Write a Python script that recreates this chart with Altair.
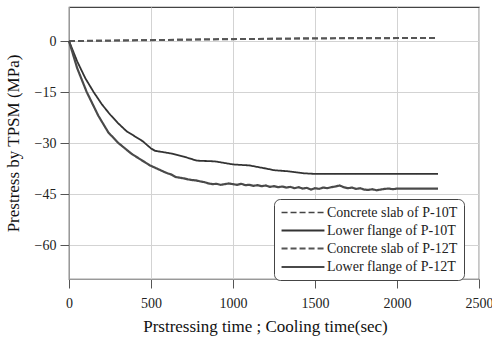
import altair as alt
import pandas as pd

series_names = ["Concrete slab of P-10T", "Lower flange of P-10T",
                "Concrete slab of P-12T", "Lower flange of P-12T"]

slab10_t = [0, 250, 500, 750, 1000, 1250, 1500, 1750, 2000, 2250]
slab10_v = [0.0, 0.15, 0.3, 0.45, 0.6, 0.7, 0.8, 0.85, 0.9, 0.95]

flange10_t = [0, 50, 100, 150, 200, 250, 300, 350, 400, 450, 500, 525, 575, 625, 700,
              780, 890, 950, 1000, 1100, 1200, 1250, 1330, 1430, 1500, 2250]
flange10_v = [0.0, -6.0, -11.0, -15.0, -18.6, -21.6, -24.2, -26.5, -28.0, -29.5, -31.6,
              -32.3, -32.7, -33.1, -34.0, -35.2, -35.4, -35.9, -36.3, -36.6, -37.5, -38.0,
              -38.3, -38.9, -39.1, -39.1]

slab12_t = [0, 250, 500, 750, 1000, 1250, 1500, 1750, 2000, 2250]
slab12_v = [0.0, 0.1, 0.25, 0.4, 0.55, 0.65, 0.75, 0.8, 0.85, 0.9]

flange12_t = [0, 50, 108, 179, 240, 301, 382, 494, 585,
              600, 625, 650, 675, 700, 725, 750, 775, 800, 825, 850, 875, 900, 925, 950,
              975, 1000, 1025, 1050, 1075, 1100, 1125, 1150, 1175, 1200, 1225, 1250, 1275,
              1300, 1325, 1350, 1375, 1400, 1425, 1450, 1475, 1500, 1525, 1550, 1575, 1600,
              1625, 1650, 1675, 1700, 1725, 1750, 1775, 1800, 1825, 1850, 1875, 1900, 1925,
              1950, 1975, 2000, 2250]
flange12_v = [0.0, -8.0, -15.0, -22.0, -26.9, -30.0, -33.2, -36.6, -38.6,
              -38.9, -39.3, -40.0, -40.2, -40.4, -40.7, -40.9, -41.0, -41.3, -41.5, -41.9,
              -42.1, -42.0, -42.3, -42.1, -41.9, -42.1, -42.3, -42.0, -42.4, -42.3, -42.6,
              -42.4, -42.7, -42.5, -42.9, -42.7, -43.0, -42.8, -43.1, -42.9, -43.3, -43.0,
              -43.4, -43.2, -43.7, -43.3, -43.5, -43.1, -43.3, -43.0, -42.8, -42.5, -43.0,
              -43.3, -43.1, -43.5, -43.3, -43.7, -43.8, -43.6, -43.9, -43.7, -43.5, -43.4,
              -43.6, -43.4, -43.4]

rows = []
for name, ts, vs in [(series_names[0], slab10_t, slab10_v),
                     (series_names[1], flange10_t, flange10_v),
                     (series_names[2], slab12_t, slab12_v),
                     (series_names[3], flange12_t, flange12_v)]:
    for t, v in zip(ts, vs):
        rows.append({"series": name, "t": t, "v": v})
df = pd.DataFrame(rows)

font = "Liberation Serif, Times New Roman, serif"
label_expr = "datum.label + '        '"

chart = alt.Chart(df).mark_line(strokeCap="butt", interpolate="linear").encode(
    x=alt.X("t:Q", scale=alt.Scale(domain=[0, 2500], nice=False),
            axis=alt.Axis(values=[0, 500, 1000, 1500, 2000, 2500], format="d",
                          title="Prstressing time ; Cooling time(sec)",
                          titleX=196, titlePadding=8, labelFlush=False,
                          labelFont=font, titleFont=font)),
    y=alt.Y("v:Q", scale=alt.Scale(domain=[-70, 10], nice=False),
            axis=alt.Axis(values=[-60, -45, -30, -15, 0], format="d",
                          title="Prestress by TPSM (MPa)", titlePadding=12,
                          labelFlush=False, labelFont=font, titleFont=font)),
    color=alt.Color("series:N", scale=alt.Scale(domain=series_names,
                    range=["#444444", "#333333", "#555555", "#4a4a4a"]),
                    legend=alt.Legend(title=None, labelExpr=label_expr)),
    strokeDash=alt.StrokeDash("series:N", scale=alt.Scale(domain=series_names,
                              range=[[6, 3], [1, 0], [6, 3], [1, 0]]),
                              legend=alt.Legend(title=None, labelExpr=label_expr)),
    strokeWidth=alt.StrokeWidth("series:N", scale=alt.Scale(domain=series_names,
                                range=[1.6, 2.2, 1.6, 1.5]),
                                legend=alt.Legend(title=None, labelExpr=label_expr)),
    detail="series:N",
).properties(
    width=410, height=272,
    autosize=alt.AutoSizeParams(type="none"),
    padding={"left": 69, "top": 7, "right": 13, "bottom": 60},
).configure(
    font=font
).configure_view(
    stroke="#444444", strokeWidth=1.2
).configure_axis(
    labelFont=font, titleFont=font, labelFontSize=14, titleFontSize=17,
    titleFontWeight="normal", labelColor="#222222", titleColor="#111111",
    gridColor="#d3d3d3", gridWidth=1, domainColor="#999999", tickColor="#555555",
    tickSize=9, labelPadding=4
).configure_axisX(
    labelPadding=8
).configure_legend(
    orient="none", legendX=205, legendY=192, labelFont=font, labelFontSize=14,
    labelColor="#222222", symbolType="M-3.3,0H3.3", symbolSize=169,
    symbolOffset=15, labelOffset=16,
    strokeColor="#444444", cornerRadius=6, padding=6, fillColor="white",
    rowPadding=3
)

chart.save("out.html", embed_options={"renderer": "svg", "actions": False})
